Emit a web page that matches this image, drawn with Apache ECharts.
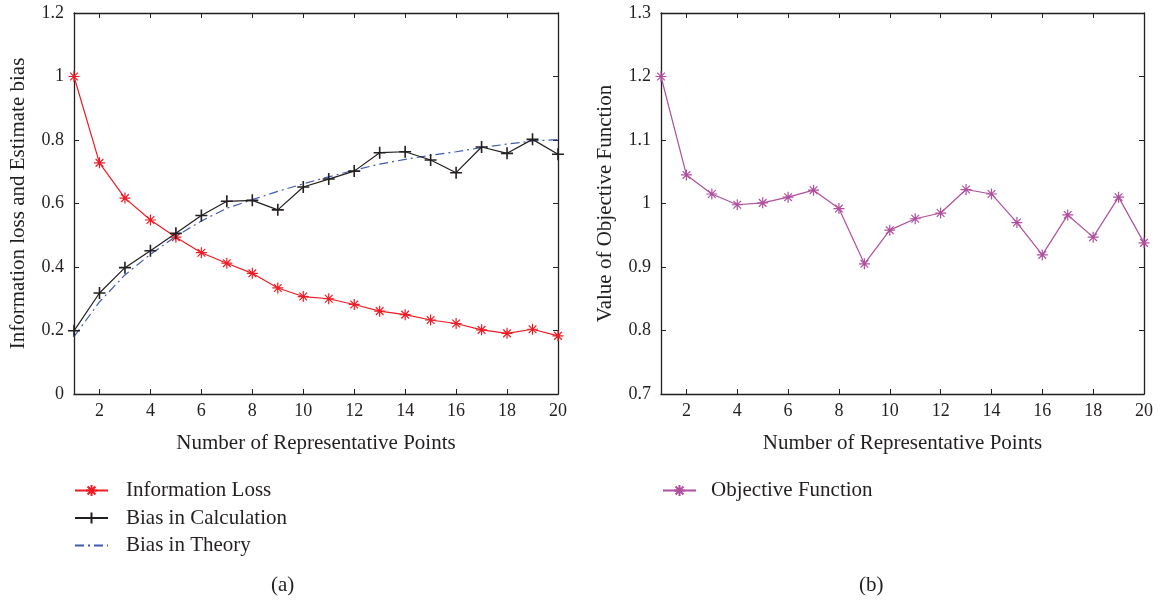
<!DOCTYPE html>
<html>
<head>
<meta charset="utf-8">
<script src="https://cdn.jsdelivr.net/npm/echarts@6/dist/echarts.min.js"></script>
<style>
html,body{margin:0;padding:0;background:#fff;}
#main{width:1160px;height:601px;}
</style>
</head>
<body>
<div id="main"></div>
<script>
// ---- data ----
const points = [1,2,3,4,5,6,7,8,9,10,11,12,13,14,15,16,17,18,19,20];
const xTickValues = [2,4,6,8,10,12,14,16,18,20];
const infoLoss = [1.0,0.728,0.617,0.548,0.494,0.445,0.412,0.380,0.334,0.307,0.300,0.282,0.261,0.250,0.233,0.222,0.202,0.191,0.204,0.183];
const biasCalc = [0.199,0.318,0.398,0.451,0.506,0.562,0.607,0.610,0.580,0.652,0.677,0.702,0.760,0.763,0.737,0.697,0.778,0.758,0.802,0.755];
const biasTheory = [0.181,0.290,0.375,0.440,0.497,0.545,0.585,0.612,0.638,0.662,0.684,0.705,0.724,0.739,0.752,0.763,0.776,0.787,0.797,0.801];
const objective = [1.200,1.045,1.015,0.998,1.001,1.010,1.021,0.992,0.905,0.958,0.976,0.985,1.022,1.015,0.970,0.919,0.982,0.947,1.010,0.938];

const seriesNames = ['Information Loss','Bias in Calculation','Bias in Theory','Objective Function'];
const xName = 'Number of Representative Points';
const yNameA = 'Information loss and Estimate bias';
const yNameB = 'Value of Objective Function';

function pairs(ys){ return points.map((x,i)=>[x,ys[i]]); }

const FONT = '"Liberation Serif", "DejaVu Serif", serif';
const TXT = '#231f20';
const AX = '#231f20';
const STAR = 'path://M5 0 L5 10 M0 5 L10 5 M1.5 1.5 L8.5 8.5 M1.5 8.5 L8.5 1.5';
const PLUS = 'path://M5 0 L5 10 M0 5 L10 5';

function xAxis(grid, top){
  return {
    type:'value', gridIndex:grid, min:1, max:20,
    position: top ? 'top' : 'bottom',
    name: top ? '' : xName, nameLocation:'middle', nameGap:39,
    nameTextStyle:{fontFamily:FONT,fontSize:21,color:TXT},
    axisLine:{show:true,onZero:false,lineStyle:{color:AX,width:1.3}},
    axisTick:{show:true,inside:true,length:5,customValues:xTickValues,lineStyle:{color:AX,width:1}},
    axisLabel:{show:!top,customValues:xTickValues,margin:8,fontFamily:FONT,fontSize:18,color:TXT},
    splitLine:{show:false}
  };
}
function yAxis(grid, right, min, max, interval, name){
  return {
    type:'value', gridIndex:grid, min:min, max:max, interval:interval,
    position: right ? 'right' : 'left',
    name: right ? '' : name, nameLocation:'middle', nameGap:45,
    nameTextStyle:{fontFamily:FONT,fontSize:21,color:TXT},
    axisLine:{show:true,onZero:false,lineStyle:{color:AX,width:1.3}},
    axisTick:{show:true,inside:true,length:5,lineStyle:{color:AX,width:1}},
    axisLabel:{show:!right,margin:10,fontFamily:FONT,fontSize:18,color:TXT},
    splitLine:{show:false}
  };
}

const chart = echarts.init(document.getElementById('main'), null, {renderer:'canvas'});
chart.setOption({
  animation:false,
  backgroundColor:'#fff',
  textStyle:{fontFamily:FONT,color:TXT},
  grid:[
    {left:74, right:602, top:13, bottom:207},
    {left:661, right:16, top:13, bottom:207}
  ],
  xAxis:[xAxis(0,false), xAxis(0,true), xAxis(1,false), xAxis(1,true)],
  yAxis:[
    yAxis(0,false,0,1.2,0.2,yNameA), yAxis(0,true,0,1.2,0.2,''),
    yAxis(1,false,0.7,1.3,0.1,yNameB), yAxis(1,true,0.7,1.3,0.1,'')
  ],
  legend:[
    {
      data:[seriesNames[0],seriesNames[1],{name:seriesNames[2],itemStyle:{opacity:0}}],
      orient:'vertical', left:74, top:480, padding:0, itemWidth:33, itemHeight:14, itemGap:6.5,
      textStyle:{fontFamily:FONT,fontSize:21,color:TXT,lineHeight:20,padding:[0,0,0,13]}
    },
    {
      data:[seriesNames[3]],
      orient:'vertical', left:662, top:480, padding:0, itemWidth:33, itemHeight:14,
      textStyle:{fontFamily:FONT,fontSize:21,color:TXT,lineHeight:20,padding:[0,0,0,10]}
    }
  ],
  graphic:[
    {type:'text', left:271, top:575, style:{text:'(a)', font:'21px '+FONT, fill:TXT}},
    {type:'text', left:859, top:575, style:{text:'(b)', font:'21px '+FONT, fill:TXT}}
  ],
  series:[
    {
      name:seriesNames[0], type:'line', xAxisIndex:0, yAxisIndex:0, data:pairs(infoLoss),
      symbol:STAR, symbolSize:11, lineStyle:{color:'#ed1c24',width:1.2},
      itemStyle:{color:'#ed1c24',borderColor:'#ed1c24',borderWidth:1.2}, z:3
    },
    {
      name:seriesNames[1], type:'line', xAxisIndex:0, yAxisIndex:0, data:pairs(biasCalc),
      symbol:PLUS, symbolSize:12, lineStyle:{color:'#231f20',width:1.2},
      itemStyle:{color:'#231f20',borderColor:'#231f20',borderWidth:1.6}, z:4
    },
    {
      name:seriesNames[2], type:'line', xAxisIndex:0, yAxisIndex:0, data:pairs(biasTheory),
      symbol:'none', smooth:false, lineStyle:{color:'#3f5bb0',width:1.2,type:[9,4,2,4]},
      itemStyle:{color:'#3f5bb0'}, z:2
    },
    {
      name:seriesNames[3], type:'line', xAxisIndex:2, yAxisIndex:2, data:pairs(objective),
      symbol:STAR, symbolSize:11, lineStyle:{color:'#b04f9e',width:1.2},
      itemStyle:{color:'#b04f9e',borderColor:'#b04f9e',borderWidth:1.2}, z:3
    }
  ]
});
</script>
</body>
</html>
